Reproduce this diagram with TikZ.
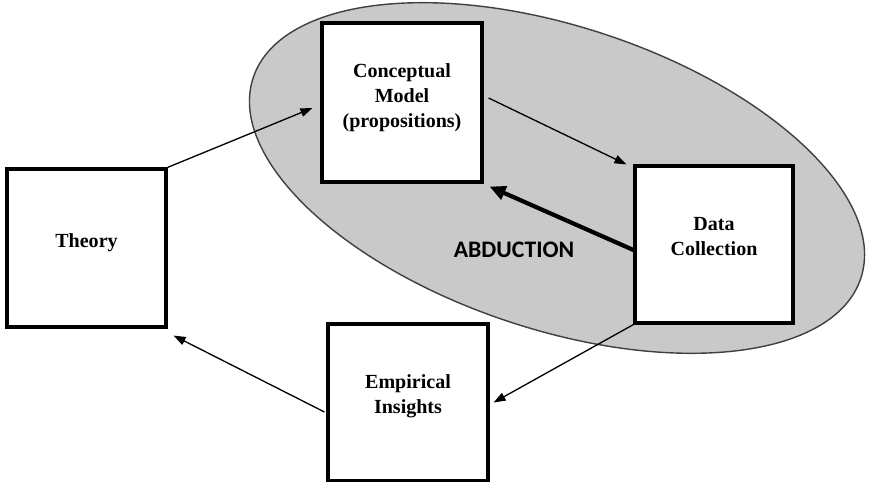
\documentclass[tikz,border=0pt]{standalone}
\usepackage{fontspec}
\setmainfont{Liberation Serif}
\newfontfamily\abdfont{Carlito}
\usetikzlibrary{arrows.meta, calc}
\definecolor{ellgray}{RGB}{201,201,201}

\begin{document}
\begin{tikzpicture}[x=0.02cm, y=-0.02cm,
  box/.style={draw, line width=1.8pt, fill=white, minimum width=3.18cm, minimum height=3.16cm, inner sep=0pt},
  txt/.style={font=\bfseries\fontsize{11.4}{14.2}\selectfont, align=center, inner sep=0pt},
  flow/.style={-{Triangle[length=2.4mm, width=1.7mm]}, line width=0.75pt},
  bigflow/.style={-{Triangle[length=3.2mm, width=2.8mm]}, line width=2.4pt}
]
\useasboundingbox (0,0) rectangle (874,482);

% shaded region
\draw[fill=ellgray, draw=black!75, line width=0.8pt] (557,178) ellipse [x radius=6.4cm, y radius=3.03cm, rotate=-18.25];

\node[box, label={[txt, yshift=3pt]center:Theory}] (theory) at (86.5,248) {};
\node[box, minimum width=3.2cm, minimum height=3.18cm,
  label={[txt, yshift=2.5pt]center:{Conceptual\\Model\\(propositions)}}] (concept) at (402,102.5) {};
\node[box, minimum width=3.16cm, minimum height=3.14cm,
  label={[txt, yshift=4.5pt]center:{Data\\Collection}}] (data) at (714,244.5) {};
\node[box, minimum width=3.2cm, minimum height=3.14cm,
  label={[txt, yshift=3.5pt]center:{Empirical\\Insights}}] (insight) at (408,402.5) {};

\node[font=\abdfont\bfseries\fontsize{13.5}{16}\selectfont] (abd) at (514,250) {ABDUCTION};

\draw[flow] (theory.north east) -- ($(concept.west)+(-8,5.5)$);
\draw[flow] ($(concept.east)+(5,-4.5)$) -- ($(data.north west)+(-7,0)$);
\draw[bigflow] ($(data.west)+(0,5.5)$) -- ($(concept.south east)+(6,3)$);
\draw[flow] (data.south west) -- ($(insight.east)+(4,0)$);
\draw[flow] ($(insight.west)+(-2,9.5)$) -- ($(theory.south east)+(6,7)$);
\end{tikzpicture}
\end{document}
